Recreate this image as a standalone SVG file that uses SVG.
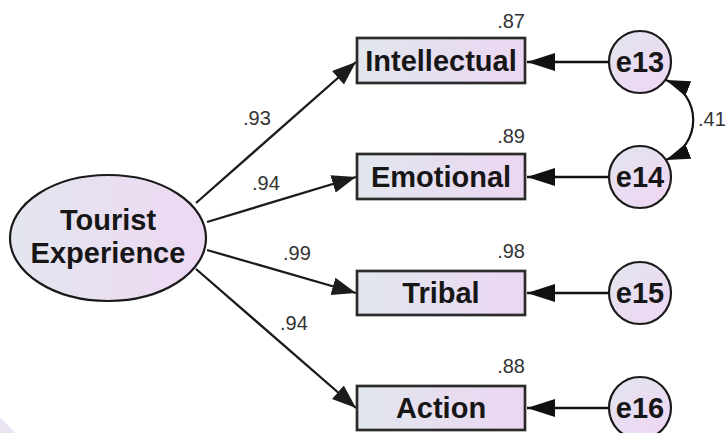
<svg xmlns="http://www.w3.org/2000/svg" width="726" height="433" viewBox="0 0 726 433">
  <defs>
    <linearGradient id="boxFill" x1="0" y1="0" x2="1" y2="0">
      <stop offset="0" stop-color="#e1e7ee"/>
      <stop offset="1" stop-color="#ecd6f2"/>
    </linearGradient>
    <linearGradient id="ovalFill" x1="0" y1="0" x2="1" y2="0">
      <stop offset="0" stop-color="#e3e6ef"/>
      <stop offset="1" stop-color="#eed8f3"/>
    </linearGradient>
    <linearGradient id="errFill" x1="0" y1="0" x2="0.8" y2="1">
      <stop offset="0" stop-color="#e2e6ef"/>
      <stop offset="1" stop-color="#efd6f3"/>
    </linearGradient>
    <marker id="arrowPath" markerUnits="userSpaceOnUse" markerWidth="26" markerHeight="20" refX="24" refY="9" orient="auto">
      <path d="M0,0 L24,9 L0,18 Z" fill="#1c1c1c"/>
    </marker>
    <marker id="arrowErr" markerUnits="userSpaceOnUse" markerWidth="30" markerHeight="20" refX="28" refY="9" orient="auto">
      <path d="M0,0 L28,9 L0,18 Z" fill="#111"/>
    </marker>
    <marker id="arrowCov" markerUnits="userSpaceOnUse" markerWidth="26" markerHeight="18" refX="24" refY="8" orient="auto-start-reverse">
      <path d="M0,0 L24,8 L0,16 Z" fill="#111"/>
    </marker>
  </defs>
  <style>
    .box { fill: url(#boxFill); stroke: #2b2b2b; stroke-width: 2.7; }
    .err { fill: url(#errFill); stroke: #1a1a1a; stroke-width: 2.2; }
    .name { font-family: "Liberation Sans", Arial, sans-serif; font-weight: bold; font-size: 29px; fill: #161616; text-anchor: middle; }
    .coef { font-family: "Liberation Sans", Arial, sans-serif; font-size: 20px; fill: #333; }
    .path { stroke: #1c1c1c; stroke-width: 2.3; fill: none; marker-end: url(#arrowPath); }
    .errline { stroke: #111; stroke-width: 2.5; fill: none; marker-end: url(#arrowErr); }
    .cov { stroke: #111; stroke-width: 2.2; fill: none; marker-start: url(#arrowCov); marker-end: url(#arrowCov); }
  </style>

  <rect width="726" height="433" fill="#ffffff"/>
  <path d="M0,417 L15,433 L0,433 Z" fill="#ebe3f2"/>

  <!-- connectors -->
  <g id="connectors">
    <line class="path" x1="196" y1="203" x2="356" y2="62"/>
    <line class="path" x1="207" y1="222" x2="356" y2="177"/>
    <line class="path" x1="207" y1="250" x2="356" y2="293"/>
    <line class="path" x1="196" y1="269" x2="356" y2="408"/>
    <line class="errline" x1="609" y1="62" x2="527" y2="62"/>
    <line class="errline" x1="609" y1="177" x2="527" y2="177"/>
    <line class="errline" x1="609" y1="293" x2="527" y2="293"/>
    <line class="errline" x1="609" y1="408" x2="527" y2="408"/>
    <path class="cov" d="M666,80 A43,43 0 0 1 666,160"/>
  </g>

  <!-- coefficient labels -->
  <g id="labels">
    <text class="coef" x="243" y="125">.93</text>
    <text class="coef" x="252" y="190">.94</text>
    <text class="coef" x="283" y="260">.99</text>
    <text class="coef" x="280" y="330">.94</text>
    <text class="coef" x="698" y="126">.41</text>
    <text class="coef" x="525" y="28" text-anchor="end">.87</text>
    <text class="coef" x="525" y="143" text-anchor="end">.89</text>
    <text class="coef" x="525" y="258" text-anchor="end">.98</text>
    <text class="coef" x="525" y="373" text-anchor="end">.88</text>
  </g>

  <!-- latent construct -->
  <g id="tourist-experience">
    <ellipse cx="108" cy="238" rx="98" ry="63" fill="url(#ovalFill)" stroke="#1a1a1a" stroke-width="2.2"/>
    <text class="name" x="108" y="230">Tourist</text>
    <text class="name" x="108" y="263">Experience</text>
  </g>

  <!-- observed indicators -->
  <g id="intellectual">
    <rect class="box" x="357" y="38" width="168" height="45"/>
    <text class="name" x="441" y="71">Intellectual</text>
  </g>
  <g id="emotional">
    <rect class="box" x="357" y="154" width="168" height="45"/>
    <text class="name" x="441" y="187">Emotional</text>
  </g>
  <g id="tribal">
    <rect class="box" x="357" y="271" width="168" height="44"/>
    <text class="name" x="441" y="303">Tribal</text>
  </g>
  <g id="action">
    <rect class="box" x="357" y="386" width="168" height="44"/>
    <text class="name" x="441" y="418">Action</text>
  </g>

  <!-- error terms -->
  <g id="e13">
    <circle class="err" cx="640" cy="62" r="31"/>
    <text class="name" x="640" y="72">e13</text>
  </g>
  <g id="e14">
    <circle class="err" cx="640" cy="177" r="31"/>
    <text class="name" x="640" y="187">e14</text>
  </g>
  <g id="e15">
    <circle class="err" cx="640" cy="293" r="31"/>
    <text class="name" x="640" y="303">e15</text>
  </g>
  <g id="e16">
    <circle class="err" cx="640" cy="408" r="31"/>
    <text class="name" x="640" y="418">e16</text>
  </g>
</svg>
